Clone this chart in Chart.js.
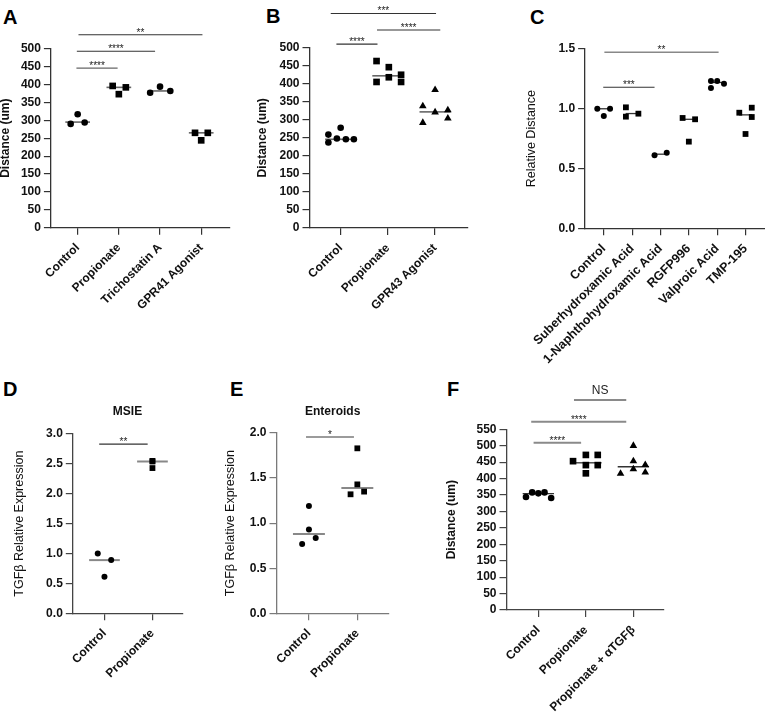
<!DOCTYPE html>
<html><head><meta charset="utf-8">
<script src="https://cdn.jsdelivr.net/npm/chart.js@4.4.0/dist/chart.umd.min.js"></script>
<style>
html,body{margin:0;padding:0;background:#fff;width:765px;height:713px;overflow:hidden;position:relative;}
canvas{position:absolute;}
.lbl{position:absolute;font:bold 20px/20px "Liberation Sans",Arial,sans-serif;color:#000;}
</style></head><body>
<div class="lbl" style="left:3px;top:7.4px">A</div>
<div class="lbl" style="left:266px;top:6.4px">B</div>
<div class="lbl" style="left:530px;top:6.7px">C</div>
<div class="lbl" style="left:3px;top:379px">D</div>
<div class="lbl" style="left:230px;top:379px">E</div>
<div class="lbl" style="left:447px;top:379px">F</div>
<canvas id="cA"></canvas><canvas id="cB"></canvas><canvas id="cC"></canvas>
<canvas id="cD"></canvas><canvas id="cE"></canvas><canvas id="cF"></canvas>
<script>
// ---------- DATA ----------
// Panel A
const aCategories = ['Control', 'Propionate', 'Trichostatin A', 'GPR41 Agonist'];
const aValues = [[317, 290, 294], [396, 373, 392], [377, 394, 382], [265, 244, 265]];
const aJitter = [[0, -0.17, 0.17], [-0.15, 0, 0.17], [-0.24, 0, 0.25], [-0.15, 0, 0.16]];
const aMedians = [295, 392, 382, 265];
const aSig = [[-0.03, 0.97, 446, '****'], [-0.02, 1.88, 493, '****'], [0.02, 3.03, 539, '**']];
const aTicks = [0, 500, 50];

// Panel B
const bCategories = ['Control', 'Propionate', 'GPR43 Agonist'];
const bValues = [[259, 237, 248, 278, 246, 246], [463, 405, 446, 418, 425, 405], [338, 292, 383, 321, 327, 304]];
const bJitter = [[-0.26, -0.26, -0.08, 0, 0.11, 0.28], [-0.24, -0.24, 0.02, 0.02, 0.28, 0.28], [-0.26, -0.26, 0, 0, 0.27, 0.27]];
const bMedians = [246, 422, 322];
const bSig = [[-0.09, 0.78, 510, '****'], [0.77, 2.11, 549, '****'], [-0.21, 2.02, 595, '***']];
const bTicks = [0, 500, 50];

// Panel C
const cCategories = ['Control', 'Suberhydroxamic Acid', '1-Naphthohydroxamic Acid', 'RGFP996', 'Valproic Acid', 'TMP-195'];
const cValues = [[1.0, 0.94, 1.0], [1.012, 0.934, 0.959], [0.611, 0.633], [0.923, 0.725, 0.912], [1.233, 1.174, 1.233, 1.21], [0.967, 0.789, 1.009, 0.931]];
const cJitter = [[-0.23, 0, 0.22], [-0.22, -0.22, 0.22], [-0.21, 0.22], [-0.22, 0, 0.22], [-0.22, -0.22, 0, 0.24], [-0.22, 0, 0.22, 0.22]];
const cMedians = [1.0, 0.96, 0.62, 0.912, 1.22, 0.949];
const cSig = [[-0.02, 1.79, 1.18, '***'], [0.02, 4.05, 1.473, '**']];
const cTicks = [0, 1.5, 0.5];

// Panel D
const dCategories = ['Control', 'Propionate'];
const dValues = [[1.0, 0.89, 0.61], [2.55, 2.54, 2.43]];
const dJitter = [[-0.14, 0.14, 0], [0, 0, 0]];
const dMedians = [0.89, 2.54];
const dSig = [[-0.11, 0.9, 2.83, '**']];
const dTicks = [0, 3, 0.5];

// Panel E
const eCategories = ['Control', 'Propionate'];
const eValues = [[0.77, 0.93, 1.19, 0.835], [1.32, 1.83, 1.43, 1.35]];
const eJitter = [[-0.14, 0, 0, 0.14], [-0.14, 0, 0, 0.14]];
const eMedians = [0.88, 1.39];
const eSig = [[-0.06, 0.93, 1.955, '*']];
const eTicks = [0, 2, 0.5];

// Panel F
const fCategories = ['Control', 'Propionate', 'Propionate + \u03B1TGF\u03B2'];
const fValues = [[344, 358, 355, 358, 341], [453, 472, 441, 416, 472, 441], [415, 500, 453, 429, 442, 419]];
const fJitter = [[-0.26, -0.13, 0, 0.13, 0.27], [-0.27, 0, 0, 0, 0.25, 0.25], [-0.27, 0, 0, 0, 0.25, 0.25]];
const fMedians = [354, 448, 436];
const fSig = [[-0.1, 0.9, 509, '****'], [-0.15, 1.85, 573, '****'], [0.75, 1.85, 639, 'NS']];
const fTicks = [0, 550, 50];

// ---------- STYLE / LAYOUT ----------
const FONT = '"Liberation Sans", Arial, sans-serif';
Chart.defaults.font.family = FONT;
Chart.defaults.color = '#111';
Chart.defaults.animation = false;

function makePanel(id, g, d) {
  const cv = document.getElementById(id);
  cv.width = g.W; cv.height = g.H;
  cv.style.left = g.L + 'px'; cv.style.top = g.T + 'px';
  const datasets = [];
  d.values.forEach((vals, i) => {
    const ms = d.markers[i];
    datasets.push({
      data: vals.map((v, k) => ({x: i + d.jitter[i][k], y: v})),
      showLine: false, pointStyle: ms, pointRadius: g.r[ms],
      pointBackgroundColor: '#000', pointBorderColor: '#000', pointBorderWidth: 0, clip: false, order: 0
    });
  });
  d.medians.forEach((m, i) => datasets.push({
    data: [{x: i - g.mw, y: m}, {x: i + g.mw, y: m}], showLine: true, pointRadius: 0,
    borderColor: g.medColor, borderWidth: g.medWidth, clip: false, order: 1
  }));
  d.sig.forEach((s, j) => datasets.push({
    data: [{x: s[0], y: s[2]}, {x: s[1], y: s[2]}], showLine: true, pointRadius: 0,
    borderColor: g.sigColor[j], borderWidth: g.sigWidth[j], clip: false, order: 1
  }));
  const axisCommon = {
    grid: {drawOnChartArea: false, drawTicks: true, tickLength: 7, color: g.axisColor, lineWidth: 1.2},
    border: {color: g.axisColor, width: 1.3}
  };
  const sigPlugin = {
    id: 'sigText',
    afterDatasetsDraw(chart) {
      const ctx = chart.ctx, xs = chart.scales.x, ys = chart.scales.y;
      ctx.save(); ctx.fillStyle = '#222'; ctx.textAlign = 'center'; ctx.textBaseline = 'alphabetic';
      d.sig.forEach(s => {
        const cx = xs.getPixelForValue((s[0] + s[1]) / 2), y = ys.getPixelForValue(s[2]);
        if (/^\*+$/.test(s[3])) { ctx.font = '10px ' + FONT; ctx.fillText(s[3], cx, y + 1); }
        else { ctx.font = '12px ' + FONT; ctx.fillText(s[3], cx, y - 6); }
      });
      ctx.restore();
    }
  };
  new Chart(cv, {
    type: 'scatter',
    data: {datasets},
    options: {
      responsive: false, animation: false,
      layout: {padding: {left: 0, top: g.pt, right: g.pr, bottom: 0}, autoPadding: false},
      plugins: {
        legend: {display: false}, tooltip: {enabled: false},
        title: d.title ? {display: true, text: d.title, fullSize: false, color: '#111',
          font: {size: 12, weight: 'bold'}, padding: {top: 0, bottom: g.tpb}} : {display: false}
      },
      scales: {
        x: Object.assign({
          type: 'linear', min: g.xMin, max: g.xMax,
          afterBuildTicks: s => { s.ticks = d.categories.map((_, i) => ({value: i})); },
          ticks: {autoSkip: false, minRotation: 45, maxRotation: 45, padding: 6, color: '#111',
            font: {size: g.xtSize || 12, weight: 'bold'}, callback: v => d.categories[v]},
          afterFit: s => { s.height = g.xh; s.paddingLeft = 0; s.paddingRight = 0; }
        }, axisCommon),
        y: Object.assign({
          min: d.ticks[0], max: d.ticks[1],
          ticks: {stepSize: d.ticks[2], maxTicksLimit: 30, autoSkip: false, padding: 3, color: '#111',
            font: {size: 12, weight: 'bold'},
            callback: v => d.ticks[2] < 1 ? Number(v).toFixed(1) : String(v)},
          title: {display: true, text: d.yTitle, color: '#111', padding: 0,
            font: {size: g.ytSize, weight: g.ytWeight}},
          afterFit: s => { s.width = g.yw; s.paddingTop = 0; s.paddingBottom = 0; }
        }, axisCommon)
      }
    },
    plugins: [sigPlugin]
  });
}

const R1 = {circle: 3.3, rect: 4.7, triangle: 4.4};
const R2 = {circle: 3.0, rect: 4.1, triangle: 4.0};

makePanel('cA', {L: -2.2, T: 0, W: 240, H: 330, pt: 48.7, pr: 8.8, yw: 52.9, xh: 102.3, xMin: -0.65, xMax: 3.68,
  r: R1, mw: 0.3, medColor: '#666', medWidth: 1.6, axisColor: '#333',
  sigColor: ['#666', '#333', '#333'], sigWidth: [1.2, 1.1, 1.1], ytSize: 12, ytWeight: 'bold'},
  {categories: aCategories, values: aValues, jitter: aJitter, medians: aMedians, sig: aSig, ticks: aTicks,
   markers: ['circle', 'rect', 'circle', 'rect'], yTitle: 'Distance (um)'});

makePanel('cB', {L: 254.5, T: 0, W: 225, H: 335, pt: 47.7, pr: 12.8, yw: 54.5, xh: 107, xMin: -0.66, xMax: 2.68,
  r: R1, mw: 0.33, medColor: '#666', medWidth: 1.6, axisColor: '#333',
  sigColor: ['#333', '#333', '#333'], sigWidth: [1.1, 1.1, 1.1], ytSize: 12, ytWeight: 'bold'},
  {categories: bCategories, values: bValues, jitter: bJitter, medians: bMedians, sig: bSig, ticks: bTicks,
   markers: ['circle', 'rect', 'triangle'], yTitle: 'Distance (um)'});

makePanel('cC', {L: 524.2, T: 0, W: 241, H: 368, pt: 49, pr: 0.2, yw: 61.1, xh: 139.7, xMin: -0.66, xMax: 5.68,
  r: R2, mw: 0.23, medColor: '#333', medWidth: 1.3, axisColor: '#333', xtSize: 12.5,
  sigColor: ['#333', '#888'], sigWidth: [1.1, 1.6], ytSize: 12.5, ytWeight: 'normal'},
  {categories: cCategories, values: cValues, jitter: cJitter, medians: cMedians, sig: cSig, ticks: cTicks,
   markers: ['circle', 'rect', 'circle', 'rect', 'circle', 'rect'], yTitle: 'Relative Distance'});

makePanel('cD', {L: 11.5, T: 340, W: 200, H: 373, pt: 64.5, tpb: 15.1, pr: 29.8, yw: 60.8, xh: 99.7, xMin: -0.66, xMax: 1.62,
  r: R2, mw: 0.32, medColor: '#888', medWidth: 2, axisColor: '#444',
  sigColor: ['#333'], sigWidth: [1.1], ytSize: 12.5, ytWeight: 'normal'},
  {categories: dCategories, values: dValues, jitter: dJitter, medians: dMedians, sig: dSig, ticks: dTicks,
   markers: ['circle', 'rect'], yTitle: 'TGF\u03B2 Relative Expression', title: 'MSIE'});

makePanel('cE', {L: 222.5, T: 340, W: 200, H: 373, pt: 64.5, tpb: 14.1, pr: 34.2, yw: 53.5, xh: 99.7, xMin: -0.67, xMax: 1.65,
  r: R2, mw: 0.33, medColor: '#888', medWidth: 2, axisColor: '#7a7a7a',
  sigColor: ['#7a7a7a'], sigWidth: [1.6], ytSize: 12.5, ytWeight: 'normal'},
  {categories: eCategories, values: eValues, jitter: eJitter, medians: eMedians, sig: eSig, ticks: eTicks,
   markers: ['circle', 'rect'], yTitle: 'TGF\u03B2 Relative Expression', title: 'Enteroids'});

makePanel('cF', {L: 443.5, T: 340, W: 240, H: 373, pt: 89.3, pr: 20.2, yw: 62.5, xh: 103, xMin: -0.67, xMax: 2.64,
  r: R1, mw: 0.33, medColor: '#333', medWidth: 1.3, axisColor: '#444',
  sigColor: ['#8a8a8a', '#8a8a8a', '#8a8a8a'], sigWidth: [2, 2, 2], ytSize: 12, ytWeight: 'bold'},
  {categories: fCategories, values: fValues, jitter: fJitter, medians: fMedians, sig: fSig, ticks: fTicks,
   markers: ['circle', 'rect', 'triangle'], yTitle: 'Distance (um)'});
</script>
</body></html>
